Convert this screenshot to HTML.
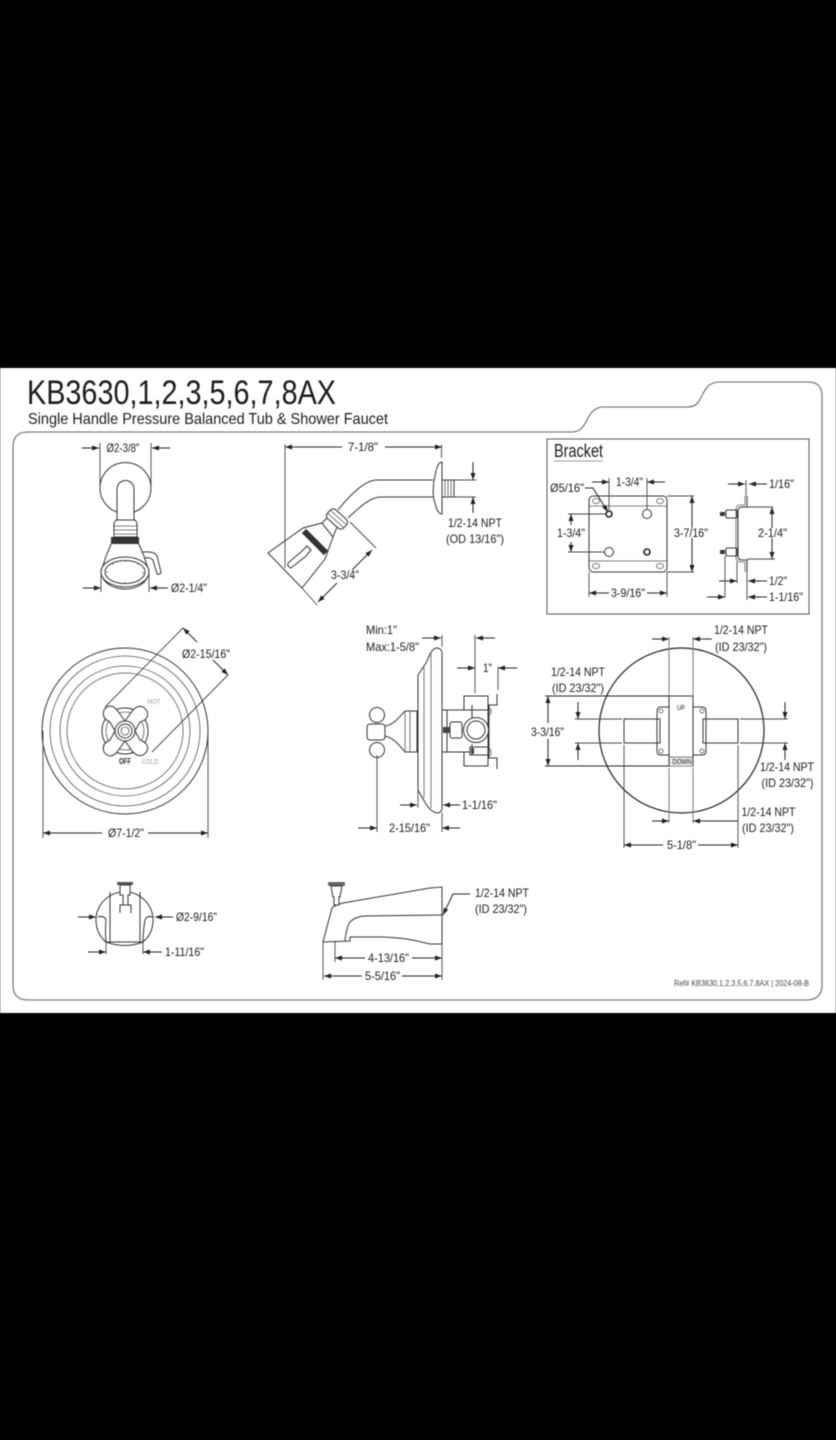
<!DOCTYPE html>
<html lang="en">
<head>
<meta charset="utf-8">
<title>KB3630 Diagram</title>
<style>
html,body{margin:0;padding:0;background:#000;width:836px;height:1440px;overflow:hidden}
svg{display:block;position:absolute;left:0;top:0;filter:blur(.45px)}
text{font-family:"Liberation Sans",sans-serif;font-size:12px;fill:#1c1c1c;text-anchor:middle}
.s{fill:none;stroke:#333;stroke-width:1}
.t{fill:none;stroke:#555;stroke-width:.8}
.w{fill:#fff;stroke:#333;stroke-width:1}
.a path{fill:none;stroke:#222;stroke-width:1;marker-end:url(#m)}
.e{fill:none;stroke:#444;stroke-width:.9}
</style>
</head>
<body>
<svg width="836" height="1440" viewBox="0 0 836 1440" xmlns="http://www.w3.org/2000/svg">
<defs>
<marker id="m" markerUnits="userSpaceOnUse" markerWidth="8" markerHeight="6" refX="7" refY="2.5" orient="auto"><path d="M0 0L7 2.5L0 5Z" fill="#222"/></marker>
</defs>
<rect x="0" y="0" width="836" height="1440" fill="#000"/>
<rect x="0" y="368" width="836" height="645" fill="#fff"/>

<text x="27" y="404" style="font-size:34px;text-anchor:start" textLength="309" lengthAdjust="spacingAndGlyphs">KB3630,1,2,3,5,6,7,8AX</text>
<text x="28" y="424" style="font-size:16px;text-anchor:start" textLength="360" lengthAdjust="spacingAndGlyphs">Single Handle Pressure Balanced Tub &amp; Shower Faucet</text>

<path d="M13 447Q13 432 28 432L572 432C590 432 584 407 604 407L688 407C706 407 698 382 720 382L808 382Q822 382 822 396L822 985Q822 1000 806 1000L28 1000Q13 1000 13 985Z" fill="none" stroke="#666" stroke-width="1.100"/>

<!-- shower front -->
<g>
<circle cx="125.5" cy="488" r="25.5" class="s"/>
<path class="w" d="M117 520L117 489A8.5 8.5 0 0 1 134 489L134 520Z"/>
<path class="w" d="M116 520H135L137 523V537H114V523Z"/>
<path class="t" d="M113 526H138M113 530H138M115 534H136"/>
<path class="w" d="M112 542L138 542L144 556L149 572C147 584 136 589 125 589C114 589 103 584 101 572L106 556Z"/>
<rect x="111" y="537" width="28" height="7" fill="#333"/>
<path class="s" d="M143 552Q155 551 157 556L161 572Q161 575 157 574L153 560Q150 557 145 558"/>
<ellipse cx="125" cy="572" rx="24" ry="15" class="w"/>
<ellipse cx="125" cy="572" rx="20" ry="11.5" class="s"/>
<g fill="#555"><circle cx="113" cy="564" r=".7"/><circle cx="125" cy="561" r=".7"/><circle cx="138" cy="564" r=".7"/><circle cx="143" cy="573" r=".7"/><circle cx="138" cy="581" r=".7"/><circle cx="125" cy="583" r=".7"/><circle cx="112" cy="581" r=".7"/><circle cx="107" cy="572" r=".7"/></g>
<path class="e" d="M100 443V490M151 443V490M101 572V592M149 572V592"/>
<g class="a"><path d="M82 448H99"/><path d="M170 448H152"/><path d="M83 588H101"/><path d="M168 588H150"/></g>
<text x="123" y="452" textLength="33" lengthAdjust="spacingAndGlyphs">Ø2-3/8"</text>
<text x="189" y="592" textLength="36" lengthAdjust="spacingAndGlyphs">Ø2-1/4"</text>
</g>

<!-- shower arm side -->
<g>
<path class="e" d="M441.5 445V458"/>
<path class="s" d="M433 480H377C365 480 350 495 338 510M433 497H381C370 497 360 507 348 518"/>
<path class="w" d="M442 462C437 462 436 472 434 480L433 492L434 500C436 506 437 514 442 514Z"/>
<rect x="442" y="480" width="12" height="17" class="s"/>
<path class="t" d="M445 480V497M448 480V497M451 480V497"/>
<path class="e" d="M454 480H476M454 497H476"/>
<g class="a"><path d="M473 462V480"/><path d="M473 513V497"/></g>
<path class="w" d="M268 553L303 528L322 523L333 537L325 559L302 588Z"/>
<path d="M304 531L326 553" stroke="#333" stroke-width="6" fill="none"/>
<path class="w" d="M322 523L328 517L337 527L333 537Z"/>
<g transform="rotate(42 337 519)"><rect x="326" y="513" width="22" height="12" rx="4" class="w"/><path class="t" d="M326 517H348M326 521H348"/></g>
<path class="w" d="M288 563L302 551L307 546L311 550L306 556L291 568Q287 567 288 563Z"/>
<path class="e" d="M285 444V568M302 588L317 605M350 522L376 548"/>
<g class="a"><path d="M352 570L372 550"/><path d="M337 583L318 602"/></g>
<g class="a"><path d="M342 447H285"/><path d="M385 447H442"/></g>
<text x="363" y="451" textLength="30" lengthAdjust="spacingAndGlyphs">7-1/8"</text>
<text x="345" y="579" textLength="28" lengthAdjust="spacingAndGlyphs">3-3/4"</text>
<text x="475" y="527" textLength="54" lengthAdjust="spacingAndGlyphs">1/2-14 NPT</text>
<text x="475" y="543" textLength="58" lengthAdjust="spacingAndGlyphs">(OD 13/16")</text>
</g>

<!-- bracket -->
<g>
<rect x="547" y="439" width="262" height="175" fill="none" stroke="#555" stroke-width="1"/>
<text x="554" y="457" style="font-size:18px;text-anchor:start" textLength="49" lengthAdjust="spacingAndGlyphs">Bracket</text>
<path d="M554 461H603" stroke="#999" fill="none"/>
<rect x="589" y="496" width="78" height="76" rx="4" class="s"/>
<path class="t" d="M589 506H667M589 561H667"/>
<ellipse cx="596" cy="501" rx="3.5" ry="2.5" class="t"/><ellipse cx="660" cy="501" rx="3.5" ry="2.5" class="t"/>
<ellipse cx="596" cy="566" rx="3.5" ry="2.5" class="t"/><ellipse cx="660" cy="566" rx="3.5" ry="2.5" class="t"/>
<circle cx="609" cy="514" r="3" fill="#fff" stroke="#222" stroke-width="1.6"/>
<circle cx="647" cy="514" r="4.5" class="s"/>
<circle cx="609" cy="552" r="4.5" class="s"/>
<circle cx="647" cy="552" r="3" fill="#fff" stroke="#222" stroke-width="1.6"/>
<path class="e" d="M609 478V510M647 478V509M568 514H605M568 552H604M667 496H694M667 572H694M589 572V597M667 572V597"/>
<g class="a"><path d="M592 482H609"/><path d="M665 482H647"/><path d="M571 525V514"/><path d="M571 542V552"/><path d="M692 528V496"/><path d="M692 538V572"/><path d="M609 593H589"/><path d="M647 593H667"/></g>
<path d="M585 488H593L608 512" fill="none" stroke="#222" stroke-width="1" marker-end="url(#m)"/>
<text x="567" y="492" textLength="34" lengthAdjust="spacingAndGlyphs">Ø5/16"</text>
<text x="629.500" y="486" textLength="27" lengthAdjust="spacingAndGlyphs">1-3/4"</text>
<text x="571" y="537" textLength="28" lengthAdjust="spacingAndGlyphs">1-3/4"</text>
<text x="691" y="537" textLength="34" lengthAdjust="spacingAndGlyphs">3-7/16"</text>
<text x="628" y="597" textLength="34" lengthAdjust="spacingAndGlyphs">3-9/16"</text>
<!-- side -->
<path class="s" d="M747 496V507H742Q738 507 738 511V556Q738 560 742 560H747V572"/>
<path class="t" d="M745 496V505H740Q736 505 736 510V557Q736 562 740 562H745V572"/>
<path class="e" d="M747 507H773M747 559H775M725 556V597M737 562V583M747 572V600M746 480V496"/>
<rect x="726" y="510" width="11" height="8" rx="1" class="s"/><rect x="720" y="512" width="5" height="4" fill="#333"/>
<rect x="726" y="548" width="11" height="8" rx="1" class="s"/><rect x="720" y="550" width="5" height="4" fill="#333"/>
<g class="a"><path d="M772 528V507"/><path d="M772 538V559"/><path d="M728 484H745"/><path d="M767 484H749"/><path d="M719 581H737"/><path d="M767 581H748"/><path d="M707 597H725"/><path d="M767 597H748"/></g>
<text x="781.500" y="488" textLength="25" lengthAdjust="spacingAndGlyphs">1/16"</text>
<text x="772.500" y="537" textLength="29" lengthAdjust="spacingAndGlyphs">2-1/4"</text>
<text x="778" y="585" textLength="18" lengthAdjust="spacingAndGlyphs">1/2"</text>
<text x="786" y="601" textLength="34" lengthAdjust="spacingAndGlyphs">1-1/16"</text>
</g>

<!-- front valve trim -->
<g>
<circle cx="125" cy="731" r="83" class="s"/>
<circle cx="125" cy="731" r="75" class="t"/>
<circle cx="125" cy="731" r="65" class="t"/>
<circle cx="125" cy="731" r="58" class="t"/>
<circle cx="125" cy="731" r="23" class="s"/>
<circle cx="125" cy="731" r="19" class="t"/>
<path class="w" d="M104 710Q110 702 117 710L125 721L133 710Q141 702 147 711Q150 719 140 722L135 731L140 740Q150 744 147 751Q141 760 133 752L125 741L117 752Q110 760 104 752Q101 744 110 740L115 731L110 722Q101 718 104 710Z"/>
<circle cx="125" cy="731" r="10" class="w"/>
<circle cx="125" cy="731" r="7" class="s"/>
<circle cx="125" cy="731" r="4" class="t"/>
<path class="e" d="M105 707L183 628M152 752L228 675M43 731V838M208 731V838"/>
<g class="a"><path d="M197 642L183 628"/><path d="M213 660L228 675"/><path d="M102 833H43"/><path d="M148 833H208"/></g>
<text x="206" y="658" textLength="48" lengthAdjust="spacingAndGlyphs">Ø2-15/16"</text>
<text x="126" y="837" textLength="36" lengthAdjust="spacingAndGlyphs">Ø7-1/2"</text>
<text x="154" y="704" style="font-size:7px;font-weight:bold;fill:#bbb" textLength="13" lengthAdjust="spacingAndGlyphs">HOT</text>
<text x="125" y="764" style="font-size:8px;font-weight:bold;fill:#222" textLength="12" lengthAdjust="spacingAndGlyphs">OFF</text>
<text x="150" y="764" style="font-size:7.500px;font-weight:bold;fill:#bbb" textLength="17" lengthAdjust="spacingAndGlyphs">COLD</text>
</g>

<!-- valve side -->
<g>
<path class="s" d="M442 652Q441 648 436 648C430 650 428 660 426 663L418 675V790C424 800 428 812 438 813Q442 812 442 808Z"/>
<path class="t" d="M424 666V798M431 654V808"/>
<circle cx="377" cy="715" r="7.500" class="s"/><circle cx="377" cy="750" r="7.500" class="s"/>
<rect x="367" y="724" width="18" height="16" rx="3" class="w"/>
<path class="s" d="M385 726C394 725 400 716 405 711H417V752H405C400 746 394 738 385 736"/>
<path class="t" d="M405 711V752M410 711V752"/>
<rect x="442" y="710" width="5" height="42" class="s"/>
<path class="s" d="M464 710V696H488V766H464V752H447V710H488"/>
<path class="s" d="M447 752H488"/>
<path class="s" d="M472 705V718M472 744V755"/>
<rect x="450" y="722" width="12" height="16" rx="2" class="w"/>
<rect x="443" y="727" width="7" height="6" fill="#444"/>
<circle cx="476" cy="730" r="12.500" class="w"/>
<circle cx="476" cy="730" r="9" class="s"/>
<rect x="470" y="747" width="18" height="8" class="w"/>
<rect x="471" y="748" width="3" height="6" fill="#444"/>
<path class="s" d="M497 694V705H489V758H497V769"/>
<path class="t" d="M489 707Q493 711 490 715M489 748Q493 752 490 756"/>
<path class="e" d="M442 635V647M475 635V693M498 667V690M377 755V832M442 813V832M418 790V808"/>
<g class="a"><path d="M422 638H441"/><path d="M495 638H476"/><path d="M457 668H475"/><path d="M517 668H498"/><path d="M400 805H417"/><path d="M460 805H443"/><path d="M358 828H377"/><path d="M460 828H442"/></g>
<text x="366" y="634" style="text-anchor:start" textLength="31" lengthAdjust="spacingAndGlyphs">Min:1"</text>
<text x="366" y="651" style="text-anchor:start" textLength="53" lengthAdjust="spacingAndGlyphs">Max:1-5/8"</text>
<text x="487.500" y="672" textLength="9" lengthAdjust="spacingAndGlyphs">1"</text>
<text x="479.500" y="809" textLength="35" lengthAdjust="spacingAndGlyphs">1-1/16"</text>
<text x="409.500" y="832" textLength="41" lengthAdjust="spacingAndGlyphs">2-15/16"</text>
</g>

<!-- rough-in -->
<g>
<circle cx="681.500" cy="730.500" r="82.500" fill="none" stroke="#222" stroke-width="1.200"/>
<path class="s" d="M669 707H661Q657 707 657 711V751Q657 755 661 755H669M693 707H702Q706 707 706 711V751Q706 755 702 755H693"/>
<circle cx="661" cy="711" r="2" class="t"/><circle cx="661" cy="751" r="2" class="t"/><circle cx="702" cy="711" r="2" class="t"/><circle cx="702" cy="751" r="2" class="t"/>
<rect x="669" y="696" width="24" height="70" class="s"/>
<rect x="669.500" y="757" width="23" height="9" fill="#e8e8e8"/>
<path class="t" d="M669 757H693"/>
<rect x="624" y="719" width="36" height="24" class="s"/>
<rect x="703" y="719" width="35" height="24" class="s"/>
<path d="M669 637V696M669 768V823M693 637V696M693 768V823" stroke="#777" fill="none"/>
<path class="e" d="M575 719H622M575 743H622M740 719H788M740 743H788M624 745V848M738 745V848"/>
<path d="M545 696H669M545 766H669" stroke="#222" fill="none"/>
<g class="a"><path d="M652 639H669"/><path d="M712 639H693"/><path d="M548 723V696"/><path d="M548 739V766"/><path d="M578 702V719"/><path d="M578 760V743"/><path d="M785 702V719"/><path d="M785 760V743"/><path d="M652 821H669"/><path d="M738 821H693"/><path d="M663 845H624"/><path d="M698 845H738"/></g>
<text x="681" y="710" style="font-size:7px" textLength="8" lengthAdjust="spacingAndGlyphs">UP</text>
<text x="682" y="764" style="font-size:7px" textLength="19" lengthAdjust="spacingAndGlyphs">DOWN</text>
<text x="741" y="634" textLength="54" lengthAdjust="spacingAndGlyphs">1/2-14 NPT</text>
<text x="741" y="651" textLength="52" lengthAdjust="spacingAndGlyphs">(ID 23/32")</text>
<text x="578" y="676" textLength="54" lengthAdjust="spacingAndGlyphs">1/2-14 NPT</text>
<text x="578" y="692" textLength="52" lengthAdjust="spacingAndGlyphs">(ID 23/32")</text>
<text x="547.500" y="736" textLength="33" lengthAdjust="spacingAndGlyphs">3-3/16"</text>
<text x="787" y="771" textLength="54" lengthAdjust="spacingAndGlyphs">1/2-14 NPT</text>
<text x="787.500" y="787" textLength="52" lengthAdjust="spacingAndGlyphs">(ID 23/32")</text>
<text x="768.500" y="816" textLength="54" lengthAdjust="spacingAndGlyphs">1/2-14 NPT</text>
<text x="768" y="832" textLength="52" lengthAdjust="spacingAndGlyphs">(ID 23/32")</text>
<text x="681.500" y="849" textLength="29" lengthAdjust="spacingAndGlyphs">5-1/8"</text>
</g>

<!-- spout front -->
<g>
<path class="s" d="M106 942A28.500 28.500 0 1 1 143 942M106 942Q125 949 143 942"/>
<rect x="117" y="882" width="16" height="3" fill="#555"/>
<path class="w" d="M120 885H130V895H128V905H123V895H120Z"/>
<path class="s" d="M120 913V905H131V913"/>
<path class="s" d="M110 892V942M140 892V942M105 942H143"/>
<path class="s" d="M98 917Q104 915 106 920Q105 932 106 942M153 917Q147 915 145 920Q143 932 143 942"/>
<path class="e" d="M106 942V954M143 942V954"/>
<g class="a"><path d="M78 917H96"/><path d="M173 917H155"/><path d="M88 952H106"/><path d="M162 952H143"/></g>
<text x="196.500" y="921" textLength="41" lengthAdjust="spacingAndGlyphs">Ø2-9/16"</text>
<text x="184.500" y="956" textLength="39" lengthAdjust="spacingAndGlyphs">1-11/16"</text>
</g>

<!-- spout side -->
<g>
<path class="s" d="M323 942L332 908Q335 905 343 903L430 888L442 887V944H430C420 942 410 938 383 937L350 937V941L323 942Z"/>
<path class="s" d="M345 941C346 930 348 925 350 922C354 918 360 916 365 916L442 915"/>
<rect x="328" y="882" width="17" height="4" rx="1" fill="#666"/>
<path class="w" d="M331 886H342L340 897H339V905H334V897H333Z"/>
<path d="M470 894H453L443 915" fill="none" stroke="#222" stroke-width="1" marker-end="url(#m)"/>
<path class="e" d="M323 942V980M335 942V962M442 944V980"/>
<g class="a"><path d="M365 958H335"/><path d="M412 958H442"/><path d="M362 976H324"/><path d="M402 976H442"/></g>
<text x="475" y="897" style="text-anchor:start" textLength="54" lengthAdjust="spacingAndGlyphs">1/2-14 NPT</text>
<text x="475" y="913" style="text-anchor:start" textLength="52" lengthAdjust="spacingAndGlyphs">(ID 23/32")</text>
<text x="388.500" y="962" textLength="41" lengthAdjust="spacingAndGlyphs">4-13/16"</text>
<text x="382.500" y="980" textLength="35" lengthAdjust="spacingAndGlyphs">5-5/16"</text>
</g>

<text x="674" y="986" style="font-size:8.500px;text-anchor:start;fill:#444" textLength="135" lengthAdjust="spacingAndGlyphs">Ref# KB3630,1,2,3,5,6,7,8AX | 2024-08-B</text>
</svg>
</body>
</html>
